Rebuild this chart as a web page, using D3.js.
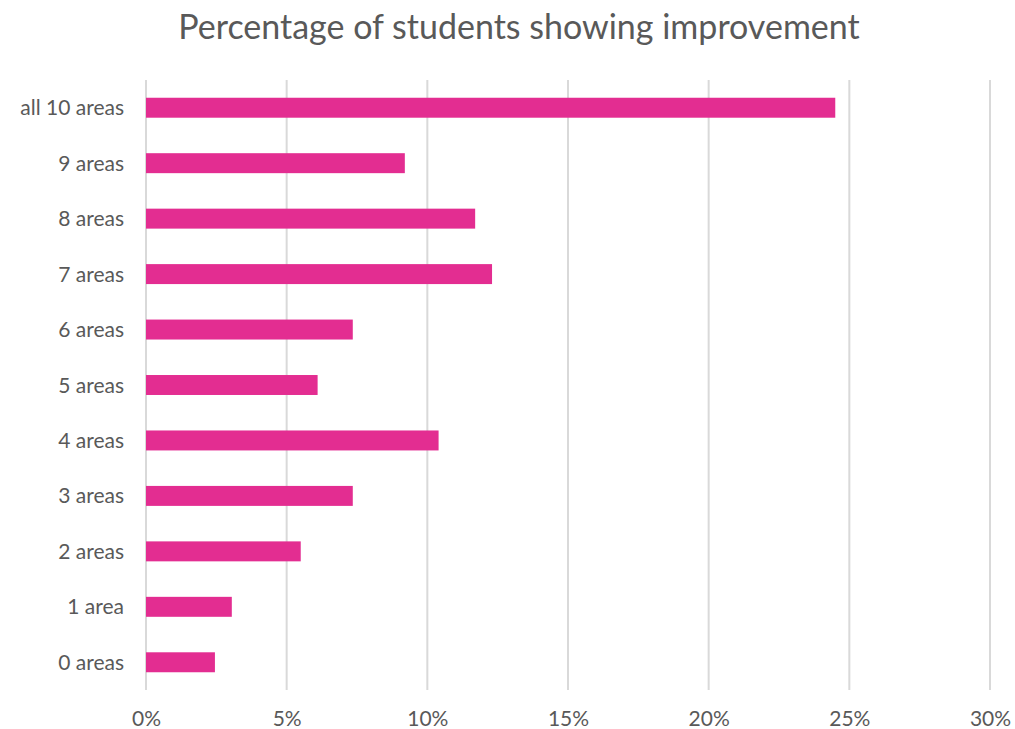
<!DOCTYPE html>
<html>
<head>
<meta charset="utf-8">
<script src="https://cdn.jsdelivr.net/npm/d3@7"></script>
<style>
  body { margin: 0; background: #fff; }
  text { font-family: "Lato", "Open Sans", sans-serif; fill: #595959; }
</style>
</head>
<body>
<div id="chart"></div>
<script>
// data
const categories = ["all 10 areas", "9 areas", "8 areas", "7 areas", "6 areas", "5 areas",
                    "4 areas", "3 areas", "2 areas", "1 area", "0 areas"];
const values = [24.5, 9.2, 11.7, 12.3, 7.35, 6.1, 10.4, 7.35, 5.5, 3.05, 2.45];
const xTicks = [0, 5, 10, 15, 20, 25, 30];

const W = 1015, H = 729;
const margin = {top: 80, right: 25, bottom: 39, left: 146};

const svg = d3.select("#chart").append("svg")
    .attr("width", W)
    .attr("height", H);

svg.append("text")
    .attr("x", 519)
    .attr("y", 39)
    .attr("text-anchor", "middle")
    .style("font-size", "34px")
    .text("Percentage of students showing improvement");

const g = svg.append("g")
    .attr("transform", "translate(" + margin.left + "," + margin.top + ")");

let x = d3.scaleLinear()
    .domain([0, 30])
    .range([0, 844]);

let y = d3.scaleBand()
    .domain(categories)
    .range([0, 610])
    .paddingInner(0.64)
    .paddingOuter(0.32);

// gridlines
g.selectAll(".grid")
    .data(xTicks)
    .enter().append("line")
    .attr("class", "grid")
    .attr("x1", d => x(d))
    .attr("x2", d => x(d))
    .attr("y1", 0)
    .attr("y2", 610)
    .attr("stroke", "#d9d9d9")
    .attr("stroke-width", 2);

// bars
g.selectAll(".bar")
    .data(values)
    .enter().append("rect")
    .attr("class", "bar")
    .attr("x", x(0))
    .attr("y", (d, i) => y(categories[i]))
    .attr("width", d => x(d) - x(0))
    .attr("height", y.bandwidth())
    .attr("fill", "#e32d91");

// x axis labels
let xAxis = d3.axisBottom(x)
    .tickValues(xTicks)
    .tickFormat(d => d + "%")
    .tickSize(0)
    .tickPadding(21);

let xg = g.append("g")
    .attr("transform", "translate(0,610)")
    .call(xAxis);
xg.select(".domain").remove();
xg.selectAll("text").style("font-size", "21px").attr("fill", "#595959");

// y axis labels
let yAxis = d3.axisLeft(y).tickSize(0).tickPadding(22);
let yg = g.append("g").call(yAxis);
yg.select(".domain").remove();
yg.selectAll("text").style("font-size", "21px").attr("fill", "#595959").attr("dy", "0.36em");
</script>
</body>
</html>
